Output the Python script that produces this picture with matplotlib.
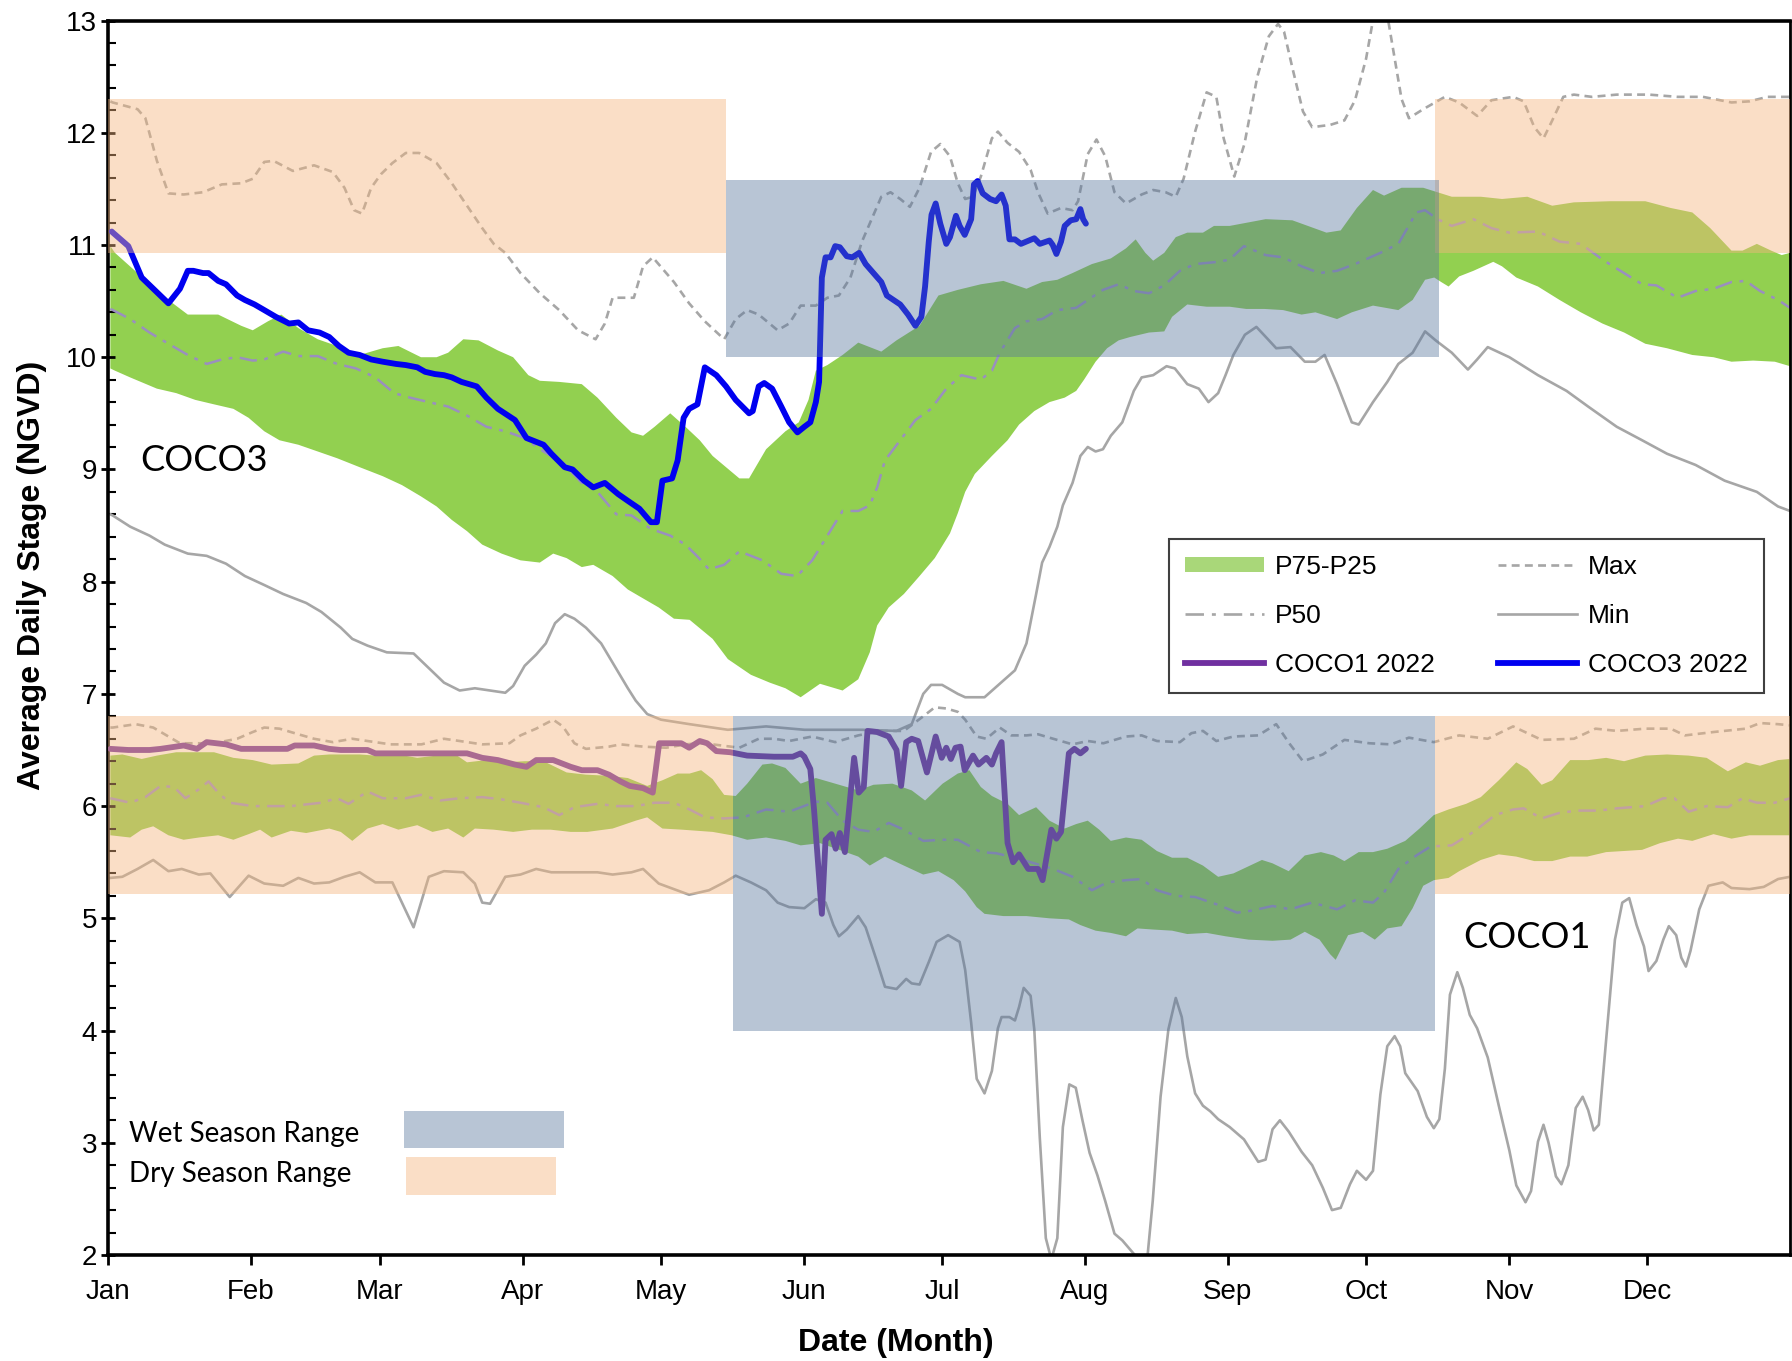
import numpy as np
import matplotlib.pyplot as plt
from matplotlib.patches import Patch, Rectangle
from matplotlib.lines import Line2D
from matplotlib.ticker import MultipleLocator

plt.rcParams['font.family'] = ['Liberation Sans', 'DejaVu Sans']

months = ['Jan', 'Feb', 'Mar', 'Apr', 'May', 'Jun', 'Jul', 'Aug', 'Sep', 'Oct', 'Nov', 'Dec']
month_start = [0, 31, 59, 90, 120, 151, 181, 212, 243, 273, 304, 334]

# season target ranges (stage, NGVD) and the day spans they cover
c3_dry_range = (10.93, 12.30)
c3_wet_range = (10.00, 11.58)
c1_dry_range = (5.22, 6.80)
c1_wet_range = (4.00, 6.80)
c3_dry_days = [(0, 134.2), (288, 365)]
c3_wet_days = (134.2, 288.8)
c1_dry_days = [(0, 135.6), (288, 365)]
c1_wet_days = (135.6, 288)

# ---- COCO3 (day of year, stage) ----
c3_max = [(0.5,12.28),(1,12.27),(6.4,12.21),(8.1,12.13),(10.6,11.75),(13.1,11.46),(16.4,11.45),(20.6,11.47),
          (24.7,11.54),(28.9,11.55),(31.4,11.59),(33.9,11.74),(35.9,11.75),(40.1,11.66),(44.7,11.71),(48.8,11.65),
          (51.3,11.51),(53.4,11.31),(55.1,11.28),(57.1,11.51),(59.2,11.63),(61.7,11.73),(64.6,11.82),(67.5,11.82),
          (71.3,11.73),(74.6,11.55),(77.9,11.35),(81.2,11.15),(83.7,11.01),(86.2,10.93),(89.5,10.75),(93.7,10.57),
          (97.9,10.42),(102,10.24),(105.8,10.16),(107.8,10.3),(109.5,10.53),(112,10.53),(114.1,10.53),(116.1,10.81),
          (118.2,10.89),(120.3,10.79),(122.8,10.67),(126.1,10.48),(129.5,10.32),(133.7,10.16),(136.2,10.34),
          (138.7,10.42),(141.2,10.38),(145.3,10.24),(147.8,10.3),(150.3,10.46),(153.6,10.46),(156.1,10.53),
          (158.6,10.55),(161.1,10.71),(163.6,11.03),(165.7,11.23),(167.8,11.43),(169.8,11.47),(171.9,11.41),
          (174,11.34),(176.1,11.51),(178.6,11.83),(180.6,11.9),(182.7,11.79),(184.4,11.55),(186,11.41),(187.7,11.43),
          (189.4,11.61),(191.8,11.95),(193.1,12.01),(195.2,11.91),(197.7,11.83),(200.2,11.67),(201.8,11.47),
          (203.9,11.28),(206.8,11.33),(209.3,11.31),(210.5,11.39),(212.6,11.81),(214.5,11.94),(216.4,11.79),
          (218.4,11.47),(220.9,11.37),(224.3,11.45),(226.8,11.49),(229.5,11.47),(231.7,11.43),(233.4,11.59),
          (235.9,12.01),(238.4,12.36),(240.5,12.32),(242.1,11.95),(244.4,11.61),(246.6,11.9),(249.4,12.5),
          (251.9,12.86),(253.9,12.97),(255.2,12.9),(257,12.58),(259.3,12.19),(261.3,12.05),(265.2,12.07),
          (268.3,12.11),(270.6,12.29),(273,12.66),(274.7,13.05),(277.6,13.05),(279.2,12.66),(280.7,12.3),
          (282.3,12.13),(285.4,12.21),(290.1,12.32),(293.2,12.27),(297.1,12.15),(300.2,12.29),(304.9,12.32),
          (307.2,12.28),(309.5,12.05),(311.5,11.95),(313.4,12.11),(315.8,12.32),(318.1,12.34),(322,12.32),
          (327.4,12.34),(334.4,12.34),(340.6,12.32),(346.1,12.32),(352.3,12.27),(356.2,12.28),(360.1,12.32),(365,12.32)]

c3_min = [(0.5,8.6),(1,8.59),(4.8,8.49),(9,8.41),(12.3,8.33),(17.3,8.25),(21.4,8.23),(25.6,8.16),(29.7,8.05),
          (33.9,7.97),(38,7.89),(43,7.81),(46.3,7.73),(50.5,7.59),(53,7.49),(56.3,7.43),(60.5,7.37),(66.3,7.36),
          (69.6,7.23),(72.9,7.1),(76.3,7.03),(79.6,7.05),(82.9,7.03),(86.2,7.01),(87.9,7.07),(90.4,7.25),(92.9,7.35),
          (95,7.45),(97,7.63),(99.1,7.71),(101.2,7.67),(103.7,7.59),(107,7.45),(109.9,7.25),(112.8,7.05),(114.5,6.94),
          (117,6.82),(120,6.77),(126.2,6.73),(134.5,6.68),(142.8,6.71),(151.1,6.68),(163.6,6.68),(171.1,6.67),
          (174.4,6.73),(176.9,7.0),(178.6,7.08),(181,7.08),(184.4,7.0),(186,6.97),(190.2,6.97),(193.5,7.09),
          (196.8,7.21),(199.3,7.45),(201.4,7.89),(202.7,8.17),(204.3,8.31),(206,8.49),(207.2,8.68),(209.3,8.88),
          (211,9.12),(212.6,9.2),(214.3,9.16),(215.9,9.18),(217.6,9.3),(220.1,9.42),(222.6,9.7),(224.3,9.82),
          (226.8,9.84),(229.7,9.92),(231.5,9.9),(234.2,9.76),(236.7,9.72),(238.8,9.6),(240.9,9.68),(242.5,9.84),
          (244.2,10.02),(246.7,10.2),(249.2,10.27),(251.7,10.16),(253.5,10.08),(256.6,10.09),(259.7,9.96),(262,9.96),
          (264,10.02),(266.7,9.76),(269.9,9.42),(271.4,9.4),(274.5,9.6),(277.6,9.78),(280,9.94),(283.1,10.04),
          (285.8,10.23),(288.1,10.15),(291.6,10.04),(295.1,9.89),(297.1,9.98),(299.4,10.09),(304.1,10.0),
          (310.3,9.84),(316.5,9.7),(321.2,9.56),(327.4,9.38),(332.9,9.26),(338.3,9.14),(344.5,9.04),(350.8,8.9),
          (357.8,8.8),(362.4,8.67),(365,8.63)]

c3_p75 = [(0.5,10.99),(1.5,10.93),(6.4,10.75),(13.1,10.51),(17.3,10.38),(23.9,10.38),(28.9,10.28),(31.4,10.24),
          (34.7,10.32),(37.6,10.38),(41.3,10.26),(45.5,10.16),(49.7,10.1),(54.6,10.02),(59.6,10.08),(63,10.1),
          (67.9,10.0),(71.3,10.0),(73.8,10.04),(77.1,10.16),(80.4,10.15),(84.6,10.06),(87.9,10.0),(91.2,9.84),
          (93.7,9.79),(97.9,9.78),(102.8,9.76),(106.2,9.64),(110.3,9.46),(113.6,9.33),(116.1,9.3),(118.6,9.38),
          (122,9.5),(125.3,9.38),(128.4,9.26),(131.2,9.12),(137,8.92),(139.1,8.92),(142.8,9.18),(147,9.34),
          (149.9,9.42),(152,9.62),(153.6,9.88),(156.1,9.93),(159.4,10.02),(162.8,10.13),(167.8,10.05),(171.1,10.15),
          (176.1,10.28),(180.2,10.55),(184.4,10.6),(189.4,10.65),(194.3,10.68),(199.3,10.61),(202.7,10.67),
          (206,10.69),(209.3,10.75),(213.5,10.83),(217.6,10.88),(220.9,10.97),(223,11.05),(225.1,10.93),
          (226.8,10.86),(229.2,10.93),(231.7,11.07),(234.2,11.11),(237.6,11.11),(240,11.17),(243.4,11.17),
          (251.2,11.23),(257,11.22),(264.4,11.11),(267.5,11.13),(271,11.33),(274.5,11.49),(276.9,11.44),
          (280.7,11.51),(285.4,11.51),(288.5,11.47),(291.6,11.43),(297.9,11.43),(302.5,11.41),(308,11.43),
          (313.4,11.35),(318.1,11.38),(325.9,11.39),(333.6,11.39),(339.1,11.33),(343.8,11.29),(347.7,11.15),
          (352.3,10.95),(354.7,10.95),(357.8,11.01),(360.9,10.95),(363.2,10.91),(365,10.93)]

c3_p25 = [(0.5,9.9),(1.5,9.88),(4.8,9.82),(10.6,9.72),(14.8,9.68),(18.9,9.62),(23,9.58),(27.2,9.54),(30.5,9.46),
          (33.9,9.34),(37.2,9.26),(41.3,9.22),(45.5,9.16),(49.7,9.1),(54.6,9.02),(59.6,8.94),(63.8,8.86),(67.9,8.76),
          (71.3,8.67),(74.6,8.55),(77.9,8.45),(81.2,8.33),(85.4,8.25),(89.5,8.19),(93.7,8.17),(96.6,8.25),(99.5,8.21),
          (102.8,8.13),(105.3,8.15),(109.5,8.05),(112.8,7.93),(115.3,7.87),(119.5,7.77),(122.8,7.67),(126.2,7.66),
          (131.2,7.49),(134.5,7.31),(139.5,7.17),(143.6,7.1),(147,7.05),(150.3,6.97),(154.5,7.09),(159.4,7.03),
          (162.8,7.13),(165.3,7.37),(166.9,7.61),(169.4,7.77),(172.7,7.89),(176.1,8.05),(179.4,8.21),(182.7,8.43),
          (184.4,8.61),(186,8.8),(188.1,8.96),(191.8,9.12),(195.2,9.26),(197.7,9.4),(201,9.52),(204.3,9.6),
          (207.6,9.64),(210.1,9.7),(211.8,9.8),(214.3,9.96),(216.8,10.08),(219.3,10.15),(221.8,10.18),(225.9,10.22),
          (229.2,10.23),(230.9,10.36),(234.2,10.47),(238.4,10.45),(243.4,10.45),(247,10.43),(251,10.43),(255,10.42),
          (259,10.38),(262,10.4),(266.7,10.34),(269.9,10.4),(274.5,10.46),(280,10.42),(283.1,10.51),(285.8,10.69),
          (287.8,10.71),(289.3,10.67),(290.9,10.63),(293.2,10.72),(296.3,10.77),(300.6,10.85),(302.5,10.81),
          (305.6,10.71),(310.3,10.63),(315,10.51),(319.6,10.4),(324.3,10.3),(329,10.22),(333.6,10.12),(338.3,10.08),
          (343.8,10.02),(348.4,10.0),(352.3,9.96),(357,9.97),(361.7,9.96),(365,9.92)]

c3_p50 = [(0.5,10.43),(1.05,10.42),(4.8,10.34),(9,10.22),(13.1,10.12),(17.3,10.02),(21.4,9.94),(24.7,9.98),(28,10.0),
          (31.4,9.97),(33.9,9.98),(38,10.05),(41.3,10.01),(45.5,10.01),(49.7,9.94),(53.8,9.9),(58,9.82),(62.1,9.68),
          (65.5,9.64),(69.6,9.6),(73.8,9.56),(77.9,9.48),(82.1,9.38),(86.2,9.34),(90.4,9.28),(94.5,9.16),(98.7,9.06),
          (102.8,8.88),(106.2,8.8),(110.3,8.6),(113.6,8.59),(117.8,8.47),(122,8.41),(125.3,8.33),(128,8.22),
          (130.4,8.11),(133.7,8.15),(137,8.27),(142,8.19),(146.1,8.07),(149.5,8.05),(152.8,8.19),(156.1,8.41),
          (159.4,8.63),(162.8,8.63),(165.3,8.68),(166.9,8.84),(168.6,9.08),(171.9,9.26),(175.2,9.44),(178.6,9.54),
          (181.9,9.72),(185.2,9.84),(189.4,9.8),(191.8,9.88),(193.5,10.04),(196.8,10.26),(199.3,10.32),(202.7,10.34),
          (206,10.42),(210.1,10.44),(212.6,10.51),(215.9,10.6),(219.3,10.65),(222.6,10.59),(225.9,10.57),
          (229.2,10.64),(232.6,10.77),(235.9,10.83),(240.9,10.85),(243.4,10.87),(246.5,10.99),(251.2,10.91),
          (255,10.89),(259,10.81),(262.9,10.75),(266.7,10.77),(270.6,10.83),(276.1,10.93),(280,11.01),(283.9,11.29),
          (285.8,11.31),(288.5,11.23),(291.6,11.17),(296.3,11.23),(300.2,11.15),(304.1,11.11),(310.3,11.12),
          (315,11.03),(319.6,11.01),(324.3,10.87),(327.4,10.79),(332.9,10.65),(336,10.64),(340.6,10.53),
          (344.5,10.59),(348.4,10.61),(352.3,10.67),(355.4,10.68),(358.5,10.59),(362.4,10.51),(365,10.44)]

c3_2022 = [(0.8,11.12),(1.05,11.11),(4.4,10.99),(7.3,10.71),(13.1,10.48),(15.6,10.61),(17.3,10.77),(18.5,10.77),
           (20.6,10.75),(21.8,10.75),(23.9,10.68),(25.6,10.65),(28,10.55),(29.7,10.51),(31.8,10.47),(33.9,10.42),
           (36.4,10.36),(39.3,10.3),(41.3,10.31),(43.4,10.24),(45.9,10.22),(48,10.18),(50.1,10.1),(52.2,10.04),
           (54.6,10.02),(57.1,9.98),(59.6,9.96),(62.5,9.94),(64.6,9.93),(67.1,9.91),(68.8,9.87),(70.9,9.85),
           (72.9,9.84),(74.6,9.82),(76.7,9.78),(80,9.74),(82.1,9.64),(84.6,9.54),(88.3,9.44),(90.8,9.28),(94.5,9.22),
           (96.2,9.14),(99.1,9.02),(100.8,9.0),(103.3,8.9),(105.3,8.84),(107.8,8.88),(110.7,8.78),(112.8,8.72),
           (115.3,8.65),(117.8,8.53),(119.1,8.53),(120.3,8.9),(122.4,8.92),(123.6,9.08),(124.9,9.46),(126.1,9.54),
           (127.9,9.58),(129.5,9.91),(132,9.84),(134.1,9.74),(136.2,9.62),(139.1,9.5),(139.9,9.52),(141.2,9.74),
           (142.4,9.77),(144.1,9.72),(146.1,9.56),(147.8,9.42),(149.6,9.33),(151.1,9.38),(152.4,9.42),(153.6,9.6),
           (154.3,9.78),(154.9,10.71),(155.7,10.89),(156.8,10.89),(157.8,10.99),(158.8,10.98),(160.3,10.9),
           (161.5,10.89),(163,10.93),(164.4,10.83),(166.1,10.75),(167.8,10.67),(169,10.55),(171.9,10.47),
           (173.6,10.38),(175.2,10.28),(176.5,10.36),(177.3,10.63),(178.1,11.03),(178.7,11.27),(179.6,11.37),
           (180.6,11.19),(181.9,11.01),(182.7,11.07),(184,11.26),(184.8,11.17),(185.9,11.09),(187.3,11.23),
           (187.9,11.54),(188.7,11.57),(189.8,11.46),(191.4,11.41),(192.7,11.39),(193.9,11.45),(194.8,11.35),
           (195.6,11.05),(196.8,11.05),(198.1,11.01),(201,11.06),(202.2,11.01),(204.3,11.04),(205,11.0),
           (205.8,10.92),(206.8,11.03),(207.6,11.17),(208.9,11.22),(210.1,11.23),(211,11.32),(211.6,11.23),(212.2,11.19)]

# ---- COCO1 ----
c1_max = [(0.5,6.7),(1.05,6.70),(6,6.73),(9.8,6.70),(12.7,6.63),(15.6,6.56),(19.7,6.56),(23,6.56),(28,6.6),
          (31.4,6.66),(33.9,6.70),(37.2,6.69),(41.3,6.64),(44.7,6.60),(48.8,6.57),(53,6.60),(56.3,6.58),(61.3,6.55),
          (68,6.55),(72.9,6.60),(76.3,6.58),(81.2,6.55),(87.1,6.56),(89.5,6.63),(92.9,6.69),(96.6,6.77),(98.7,6.71),
          (101.2,6.56),(103.7,6.51),(108.7,6.53),(111.2,6.55),(116.1,6.53),(121.1,6.52),(125.3,6.55),(128.4,6.56),
          (131.2,6.55),(137,6.52),(141.2,6.6),(144.5,6.6),(147.8,6.58),(152.8,6.62),(157.8,6.57),(162.8,6.63),
          (167.8,6.67),(172.7,6.67),(176.9,6.8),(179.4,6.88),(181.9,6.87),(184.4,6.84),(186,6.77),(188.5,6.62),
          (190.6,6.6),(193.5,6.7),(196,6.63),(199.3,6.63),(201.8,6.64),(205.1,6.6),(209.3,6.55),(212.6,6.58),
          (216,6.56),(220.9,6.62),(224.3,6.63),(227.6,6.58),(232.6,6.57),(235.1,6.65),(237.6,6.67),(240.5,6.58),
          (244.2,6.62),(249.6,6.63),(253.5,6.73),(256.5,6.55),(259.3,6.40),(263.6,6.46),(268.3,6.59),(273.7,6.56),
          (278.4,6.55),(282.3,6.61),(287.7,6.57),(293.2,6.63),(299.4,6.60),(304.9,6.71),(311.1,6.59),(318.1,6.60),
          (322.8,6.69),(327.4,6.67),(333.6,6.69),(339.1,6.69),(342.2,6.63),(348.4,6.66),(355.4,6.69),(358.5,6.74),
          (362.4,6.73),(365,6.72)]

c1_min = [(0.5,5.36),(3.1,5.37),(6.4,5.44),(9.8,5.52),(13.1,5.42),(16,5.44),(19.7,5.39),(22.2,5.40),(26.4,5.19),
          (30.5,5.38),(33.9,5.31),(38,5.29),(41.3,5.36),(44.7,5.31),(48,5.32),(51.3,5.37),(54.6,5.41),(58,5.32),
          (61.7,5.32),(66.3,4.92),(69.6,5.37),(72.9,5.42),(77.1,5.41),(79.6,5.31),(81.2,5.14),(82.9,5.13),(86.2,5.37),
          (89.5,5.39),(92.9,5.44),(96.2,5.41),(100.4,5.41),(106.2,5.41),(109.5,5.39),(113.6,5.41),(116.1,5.44),
          (119.5,5.31),(122.8,5.26),(126.1,5.21),(130.4,5.25),(133.7,5.32),(136.2,5.38),(139.5,5.32),(142.8,5.25),
          (145.3,5.14),(147.8,5.10),(151.1,5.09),(153.6,5.17),(155.7,5.14),(157.4,4.94),(158.6,4.84),(160.3,4.90),
          (162.8,5.02),(164.4,4.92),(166.9,4.61),(168.6,4.39),(171.1,4.37),(173.2,4.46),(174.4,4.42),(176.1,4.41),
          (178.1,4.61),(179.8,4.79),(182.3,4.85),(184.8,4.79),(186,4.54),(187.3,4.07),(188.5,3.57),(190.2,3.44),
          (191.8,3.64),(193.1,4.02),(193.9,4.12),(195.6,4.12),(196.8,4.09),(197.7,4.21),(198.7,4.38),(200.2,4.31),
          (201,4.01),(202.2,3.04),(203.5,2.15),(204.7,1.96),(206,2.15),(207.2,3.14),(208.6,3.52),(210,3.49),
          (211.4,3.21),(213,2.91),(214.7,2.71),(216.4,2.48),(218.4,2.19),(220.1,2.13),(222.6,2.01),(223.8,1.95),
          (225.5,1.96),(226.7,2.48),(228.4,3.41),(230.1,4.01),(231.7,4.29),(233,4.12),(234.2,3.77),(235.9,3.44),
          (237.6,3.33),(239.2,3.28),(240.9,3.21),(243.4,3.14),(246.5,3.03),(249.6,2.83),(251.2,2.85),(252.7,3.12),
          (254.3,3.2),(256.2,3.10),(259,2.92),(261.3,2.80),(263.6,2.60),(265.6,2.40),(267.5,2.42),(269.5,2.63),
          (271,2.75),(273,2.67),(274.5,2.75),(276.1,3.43),(277.6,3.86),(279.2,3.95),(280.4,3.86),(281.5,3.62),
          (284.2,3.46),(286.2,3.23),(287.7,3.13),(288.9,3.21),(290.1,3.66),(291.2,4.32),(292.8,4.52),(294,4.38),
          (295.5,4.14),(297.1,4.02),(299.4,3.76),(301.8,3.33),(304.1,2.93),(305.6,2.62),(307.6,2.47),(308.8,2.57),
          (310.3,3.01),(311.5,3.16),(312.6,3.00),(314.2,2.7),(315.4,2.63),(316.9,2.8),(318.5,3.31),(320,3.41),
          (321.2,3.29),(322.4,3.11),(323.5,3.16),(325.1,3.92),(327,4.81),(328.6,5.14),(330.1,5.18),(331.7,4.94),
          (333.3,4.75),(334.3,4.53),(336,4.62),(337.5,4.81),(338.7,4.93),(340.3,4.85),(341.4,4.65),(342.4,4.57),
          (343.4,4.71),(345.3,5.08),(347.3,5.29),(350.4,5.32),(352.3,5.27),(356.2,5.26),(359.3,5.28),(362.4,5.35),
          (365,5.37)]

c1_p75 = [(0.5,6.45),(3.1,6.46),(7.3,6.42),(10.6,6.45),(14.8,6.48),(23,6.48),(27.2,6.43),(31.4,6.41),(35.5,6.37),
          (41.3,6.38),(44.7,6.45),(48,6.46),(54.6,6.46),(58,6.45),(63,6.46),(67.1,6.43),(71.3,6.45),(75.4,6.46),
          (77.9,6.39),(82.1,6.41),(86.2,6.39),(90.4,6.40),(94.5,6.40),(99.5,6.30),(103.7,6.28),(108.7,6.27),
          (112.8,6.25),(117,6.18),(120.3,6.23),(123.6,6.29),(126.2,6.29),(128.7,6.32),(131.2,6.24),(133.7,6.10),
          (136.2,6.09),(138.7,6.20),(142,6.37),(144.1,6.38),(147,6.34),(150.3,6.20),(153.6,6.25),(157.8,6.20),
          (162.8,6.14),(166.1,6.19),(170.2,6.20),(174.4,6.14),(177.3,6.05),(181.1,6.20),(184.4,6.29),(186.9,6.32),
          (189.4,6.17),(191.8,6.09),(195.2,6.02),(197.7,5.92),(201.4,5.99),(204.3,5.87),(207.6,5.80),(210.1,5.84),
          (212.6,5.87),(215.1,5.79),(217.6,5.69),(220.9,5.72),(224.3,5.70),(227.6,5.60),(230.9,5.54),(234.2,5.54),
          (237.6,5.47),(240.9,5.37),(244.2,5.40),(247.3,5.46),(250.4,5.52),(252.7,5.49),(256.2,5.42),(259.7,5.56),
          (263.2,5.59),(266,5.56),(268.3,5.51),(271.4,5.59),(274.5,5.59),(277.6,5.62),(281.5,5.69),(284.6,5.80),
          (287.7,5.92),(290.9,5.97),(294.7,6.02),(297.9,6.08),(301.8,6.23),(305.6,6.39),(308,6.33),(311.1,6.19),
          (313.4,6.23),(317.3,6.41),(321.2,6.41),(325.1,6.43),(329,6.40),(333.6,6.45),(338.3,6.46),(343,6.45),
          (346.9,6.43),(351.5,6.31),(355.4,6.39),(358.5,6.36),(362.4,6.41),(365,6.42)]

c1_p25 = [(0.5,5.74),(4.8,5.72),(7.3,5.79),(9.8,5.82),(13.1,5.74),(16.4,5.70),(19.7,5.72),(23.9,5.74),(27.2,5.70),
          (30.5,5.75),(33,5.79),(35.5,5.72),(39.7,5.78),(43,5.76),(48,5.80),(50.5,5.77),(53,5.69),(56.3,5.80),
          (59.6,5.84),(63,5.79),(67.1,5.83),(70.4,5.77),(73.8,5.80),(77.1,5.72),(79.6,5.80),(83.7,5.79),(87.9,5.77),
          (92,5.79),(96,5.79),(100.4,5.77),(104,5.77),(109.5,5.80),(114.5,5.87),(117,5.90),(120.3,5.80),(124.5,5.79),
          (131.2,5.77),(135.3,5.74),(138.7,5.70),(142.8,5.72),(147,5.69),(150.3,5.65),(154.5,5.67),(159.4,5.60),
          (162.8,5.55),(165.3,5.47),(168.6,5.55),(172.7,5.47),(176.9,5.39),(180.2,5.42),(183.5,5.34),(186,5.24),
          (188.5,5.10),(190.2,5.04),(194.3,5.02),(199.3,5.02),(204.3,5.00),(208.5,4.99),(211,4.94),(214.3,4.89),
          (217.6,4.87),(220.9,4.84),(223.4,4.91),(226.8,4.90),(230.9,4.89),(234.2,4.86),(238.4,4.87),(242.5,4.84),
          (247.5,4.81),(252.7,4.80),(256.6,4.81),(259.7,4.88),(262.9,4.81),(265.2,4.68),(266.4,4.63),(269.1,4.85),
          (272.2,4.88),(274.9,4.81),(277.6,4.91),(280.7,4.93),(283.1,5.09),(285.4,5.29),(287.7,5.34),(290.9,5.36),
          (293.2,5.42),(297.9,5.52),(301.8,5.57),(305.6,5.55),(309.5,5.51),(313.4,5.51),(317.3,5.55),(321,5.55),
          (325.1,5.59),(329,5.60),(332.9,5.61),(336.8,5.67),(340.7,5.71),(343.8,5.69),(348.4,5.75),(352.3,5.71),
          (356.2,5.74),(360.9,5.74),(365,5.74)]

c1_p50 = [(0.5,6.07),(4.8,6.03),(8.1,6.08),(11.4,6.18),(14.3,6.17),(16.8,6.07),(19.7,6.15),(21.8,6.22),(23.9,6.12),
          (26.4,6.03),(31.4,6.00),(39.7,6.00),(46.3,6.03),(49.7,6.07),(52.2,6.02),(56.3,6.13),(59.6,6.07),(64.6,6.07),
          (67.9,6.10),(72.1,6.05),(76.3,6.07),(81.2,6.08),(85.4,6.06),(89.5,6.03),(94.5,5.99),(97.9,5.92),
          (101.2,5.99),(106.2,6.02),(110.3,6.00),(114.5,6.0),(118.6,6.03),(122.8,6.03),(126.2,5.97),(129.5,5.90),
          (133.7,5.89),(137.8,5.90),(142.8,5.97),(147.8,5.95),(153.6,6.04),(156.1,6.03),(159.4,5.87),(162.8,5.79),
          (166.1,5.77),(169.4,5.85),(172.7,5.79),(176.9,5.69),(181.1,5.70),(184.4,5.70),(189.4,5.59),(192.7,5.58),
          (196.8,5.54),(201,5.49),(205.1,5.44),(209.3,5.37),(213.5,5.25),(216.8,5.32),(220.9,5.34),(224.3,5.35),
          (227.6,5.25),(231.7,5.20),(235.9,5.19),(240.9,5.12),(245,5.05),(248.4,5.07),(252.7,5.11),(256.6,5.08),
          (261.3,5.14),(266.7,5.08),(270.6,5.16),(274.5,5.14),(276.9,5.23),(280,5.44),(283.9,5.56),(287,5.64),
          (291.6,5.65),(296.3,5.77),(301,5.92),(304.9,5.97),(307.2,5.98),(311.1,5.89),(315,5.94),(318.9,5.96),
          (323.5,5.96),(327.4,5.98),(333.6,6.00),(337.5,6.07),(339.9,6.07),(343,5.95),(346.9,6.00),(351.5,5.99),
          (354.7,6.07),(357.8,6.03),(361.7,6.03),(365,6.07)]

c1_2022 = [(0.5,6.51),(4.4,6.50),(9,6.50),(11.4,6.51),(16.4,6.54),(19.3,6.51),(21.4,6.57),(25.6,6.55),(28.9,6.51),
           (38.9,6.51),(40.5,6.54),(44.7,6.54),(48,6.51),(50.5,6.50),(56.3,6.50),(58,6.47),(77.9,6.47),(81.2,6.43),
           (84.6,6.41),(88.3,6.37),(90.8,6.35),(92.9,6.41),(96.6,6.41),(100.4,6.35),(102.8,6.32),(106.2,6.32),
           (108.7,6.28),(111.2,6.22),(113.2,6.18),(116.1,6.16),(118.2,6.12),(119.6,6.56),(124.4,6.56),(126.1,6.52),
           (128.4,6.58),(130,6.56),(132,6.49),(135,6.48),(138.7,6.45),(144.5,6.44),(148.6,6.44),(150.3,6.47),
           (151.1,6.44),(152.4,6.33),(153.2,5.97),(154.9,5.04),(155.7,5.70),(157.0,5.75),(157.9,5.62),(158.8,5.76),
           (159.9,5.59),(161.9,6.43),(162.9,6.12),(164.0,6.17),(164.8,6.67),(166.9,6.66),(169.4,6.62),(171.1,6.50),
           (172.1,6.18),(173.2,6.57),(174.4,6.60),(175.8,6.58),(177.7,6.30),(179.6,6.62),(180.9,6.43),(181.9,6.52),
           (182.9,6.42),(183.9,6.52),(185.0,6.53),(185.9,6.32),(187.7,6.45),(188.9,6.37),(190.6,6.43),(191.8,6.37),
           (192.7,6.47),(193.9,6.57),(195.2,5.67),(196.4,5.50),(197.7,5.57),(199.7,5.44),(201.8,5.44),(202.8,5.34),
           (204.7,5.79),(205.8,5.71),(206.8,5.77),(208.5,6.47),(209.7,6.51),(211.0,6.47),(212.2,6.51)]


def xy(pts):
    a = np.array(pts, dtype=float)
    return a[:, 0], a[:, 1]


band_green = '#92D050'
line_gray = '#A6A6A6'
p50_col = '#9A8FBF'
wet_col, wet_alpha = '#56759D', 0.42
dry_col, dry_alpha = '#F5B67F', 0.44

fig = plt.figure(figsize=(17.92, 13.61), dpi=100)
ax = fig.add_axes([0.0603, 0.0779, 0.9386, 0.907])

for p75, p25, p50, mx, mn in [(c3_p75, c3_p25, c3_p50, c3_max, c3_min),
                              (c1_p75, c1_p25, c1_p50, c1_max, c1_min)]:
    x1, y1 = xy(p75)
    x2, y2 = xy(p25)
    ax.fill(np.r_[x1, x2[::-1]], np.r_[y1, y2[::-1]], color=band_green, lw=0, zorder=1)
    x, y = xy(p50)
    ax.plot(x, y, color=p50_col, lw=1.8, dashes=(7, 3, 1.5, 3), zorder=2)
    x, y = xy(mx)
    ax.plot(x, y, color=line_gray, lw=1.9, dashes=(3, 2), zorder=2)
    x, y = xy(mn)
    ax.plot(x, y, color=line_gray, lw=1.9, zorder=2)

x, y = xy(c1_2022)
ax.plot(x, y, color='#7030A0', lw=4.2, zorder=3, solid_joinstyle='round', solid_capstyle='round')
x, y = xy(c3_2022)
ax.plot(x, y, color='#0000F0', lw=4.2, zorder=3, solid_joinstyle='round', solid_capstyle='round')

# season range boxes
for (d0, d1) in c3_dry_days:
    ax.fill_between([d0, d1], c3_dry_range[0], c3_dry_range[1], color=dry_col, alpha=dry_alpha, lw=0, zorder=5)
for (d0, d1) in c1_dry_days:
    ax.fill_between([d0, d1], c1_dry_range[0], c1_dry_range[1], color=dry_col, alpha=dry_alpha, lw=0, zorder=5)
ax.fill_between(c3_wet_days, c3_wet_range[0], c3_wet_range[1], color=wet_col, alpha=wet_alpha, lw=0, zorder=5)
ax.fill_between(c1_wet_days, c1_wet_range[0], c1_wet_range[1], color=wet_col, alpha=wet_alpha, lw=0, zorder=5)

ax.set_xlim(0, 365)
ax.set_ylim(2, 13)
ax.set_xticks(month_start)
ax.set_xticklabels(months)
ax.set_yticks(range(2, 14))
ax.yaxis.set_minor_locator(MultipleLocator(0.2))
ax.tick_params(axis='x', direction='out', length=7, width=2, labelsize=20, pad=10)
ax.tick_params(axis='y', which='major', direction='inout', length=10, width=2, labelsize=20, pad=3)
ax.tick_params(axis='y', which='minor', direction='in', length=6, width=1.5)
for s in ['left', 'bottom', 'top']:
    ax.spines[s].set_linewidth(2.6)
ax.spines['right'].set_linewidth(2)

# station labels
ax.text(7, 9.08, 'COCO3', fontsize=26, family='Lato', va='center', zorder=6)
ax.text(294, 4.83, 'COCO1', fontsize=26, family='Lato', va='center', zorder=6)

# season range key
ax.text(0.0122, 0.098, 'Wet Season Range', transform=ax.transAxes, fontsize=20, family='Lato', va='center')
ax.text(0.0122, 0.0655, 'Dry Season Range', transform=ax.transAxes, fontsize=20, family='Lato', va='center')
ax.add_patch(Rectangle((0.176, 0.0864), 0.095, 0.0306, transform=ax.transAxes,
                       facecolor=wet_col, alpha=wet_alpha, lw=0))
ax.add_patch(Rectangle((0.1774, 0.0482), 0.0891, 0.0309, transform=ax.transAxes,
                       facecolor=dry_col, alpha=dry_alpha, lw=0))

handles = [Patch(facecolor='#A9D779', edgecolor='none'),
           Line2D([], [], color=line_gray, lw=1.9, dashes=(7, 3, 1.5, 3)),
           Line2D([], [], color='#7030A0', lw=4.2),
           Line2D([], [], color=line_gray, lw=1.9, dashes=(3, 2)),
           Line2D([], [], color=line_gray, lw=1.9),
           Line2D([], [], color='#0000F0', lw=4.2)]
labels = ['P75-P25', 'P50', 'COCO1 2022', 'Max', 'Min', 'COCO3 2022']
leg = ax.legend(handles, labels, ncol=2, loc='upper left', bbox_to_anchor=(0.631, 0.580),
                fontsize=19, frameon=True, fancybox=False, edgecolor='#404040', framealpha=1,
                handlelength=3.0, handleheight=0.55, handletextpad=0.4, columnspacing=2.4,
                labelspacing=0.95, borderpad=0.6, borderaxespad=0)
leg.get_frame().set_linewidth(1.5)
leg.set_zorder(7)

fig.text(32 / 1792, 1 - 575 / 1361, 'Average Daily Stage (NGVD)', rotation=90, ha='center', va='center',
         fontsize=23, fontweight='bold')
fig.text(0.5, 1 - 1343 / 1361, 'Date (Month)', ha='center', va='center', fontsize=23, fontweight='bold')

fig.savefig('out.png', dpi=100)
